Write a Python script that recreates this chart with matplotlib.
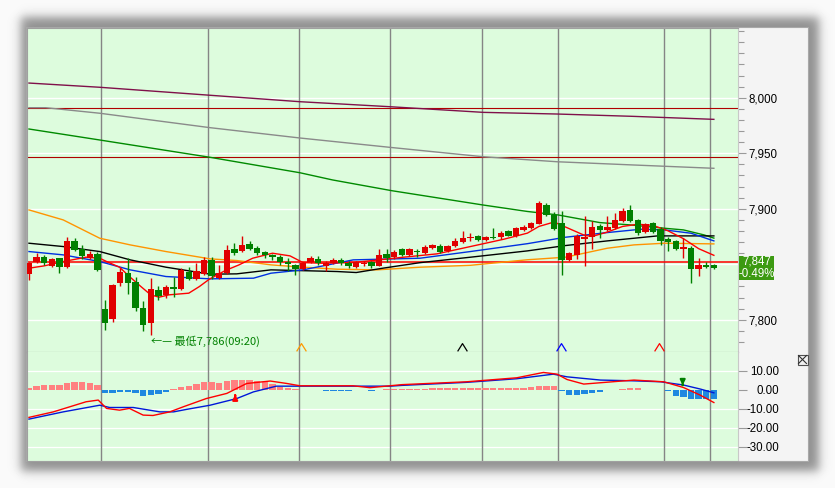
import numpy as np
import matplotlib.pyplot as plt
import matplotlib.transforms as mtrans
from matplotlib.patches import Rectangle

plt.rcParams['font.family'] = ['Liberation Sans', 'DejaVu Sans']

W, H = 835, 488

# ---- 3-minute candles ----
opens = [7841.2, 7852.3, 7856.2, 7848.4, 7855.3, 7847.2, 7870.9, 7863.4, 7855.3, 7859.2,
         7809.6, 7800.4, 7832.8, 7842.3, 7834.2, 7810.8, 7796.8, 7826.8, 7822.3, 7829.8,
         7827.4, 7842.7, 7836.8, 7841.2, 7853.8, 7838.0, 7841.8, 7863.7, 7862.2, 7868.2,
         7864.3, 7861.3, 7858.0, 7856.2, 7852.0, 7849.0, 7845.5, 7852.0, 7855.0, 7848.5,
         7851.5, 7854.0, 7851.5, 7847.7, 7850.3, 7852.0, 7848.5, 7859.3, 7856.2, 7863.7,
         7858.4, 7861.5, 7860.4, 7865.0, 7866.4, 7862.0, 7866.4, 7870.0, 7873.2, 7875.4,
         7871.8, 7874.4, 7874.2, 7880.2, 7875.0, 7880.9, 7883.0, 7886.3, 7903.4, 7894.4,
         7887.5, 7853.9, 7858.4, 7872.7, 7874.2, 7884.5, 7880.9, 7883.0, 7889.0, 7898.9,
         7889.9, 7879.4, 7886.9, 7881.5, 7872.5, 7871.0, 7863.8, 7865.0, 7845.5, 7849.4,
         7849.4]
highs = [7852.0, 7859.8, 7858.3, 7856.0, 7856.0, 7874.8, 7873.8, 7867.4, 7862.0, 7861.4,
         7817.7, 7832.0, 7846.4, 7855.5, 7838.9, 7816.4, 7838.0, 7830.4, 7831.0, 7838.9,
         7846.4, 7847.2, 7850.9, 7856.8, 7856.2, 7849.4, 7867.4, 7868.9, 7875.8, 7871.2,
         7866.0, 7862.0, 7859.0, 7858.0, 7856.0, 7850.0, 7852.0, 7857.0, 7857.0, 7853.0,
         7855.5, 7855.5, 7853.0, 7853.0, 7853.0, 7853.0, 7863.7, 7863.7, 7862.5, 7865.0,
         7865.0, 7864.0, 7867.0, 7868.5, 7868.0, 7867.3, 7874.0, 7880.3, 7878.0, 7876.5,
         7875.0, 7883.0, 7880.0, 7881.0, 7883.5, 7885.0, 7888.0, 7907.3, 7905.0, 7897.4,
         7898.3, 7861.0, 7877.0, 7893.5, 7889.3, 7886.5, 7893.5, 7895.9, 7900.4, 7903.4,
         7891.0, 7887.5, 7888.0, 7883.9, 7874.9, 7872.0, 7873.4, 7866.0, 7855.4, 7852.4,
         7850.0]
lows = [7835.8, 7850.8, 7849.3, 7847.8, 7842.3, 7846.5, 7862.0, 7854.4, 7855.0, 7844.2,
        7790.7, 7797.7, 7830.4, 7823.3, 7807.4, 7789.4, 7786.0, 7817.9, 7820.0, 7820.3,
        7827.0, 7835.8, 7835.8, 7840.0, 7836.8, 7837.0, 7841.0, 7858.3, 7861.0, 7862.5,
        7858.0, 7856.0, 7853.5, 7849.0, 7844.0, 7840.0, 7845.0, 7851.0, 7849.0, 7844.0,
        7850.5, 7849.5, 7847.0, 7847.0, 7848.0, 7847.0, 7848.0, 7852.0, 7855.0, 7857.0,
        7857.5, 7856.5, 7859.0, 7864.0, 7860.0, 7861.0, 7865.5, 7869.5, 7871.0, 7871.0,
        7871.0, 7872.5, 7873.0, 7875.0, 7874.5, 7880.0, 7882.0, 7886.0, 7893.5, 7880.5,
        7840.4, 7852.5, 7855.0, 7848.4, 7863.8, 7874.0, 7880.0, 7882.0, 7888.0, 7888.0,
        7876.5, 7878.0, 7878.0, 7867.4, 7862.3, 7862.5, 7855.4, 7833.5, 7839.4, 7846.5,
        7845.5]
closes = [7851.4, 7856.8, 7851.4, 7854.4, 7847.2, 7870.9, 7862.8, 7857.4, 7859.2, 7844.8,
          7797.3, 7831.0, 7843.2, 7833.3, 7810.8, 7795.2, 7827.4, 7821.4, 7829.7, 7828.0,
          7844.8, 7836.4, 7844.0, 7853.8, 7839.4, 7842.0, 7862.8, 7860.4, 7867.3, 7863.4,
          7860.4, 7858.3, 7856.5, 7852.3, 7850.0, 7845.5, 7851.5, 7855.4, 7851.5, 7851.5,
          7854.0, 7851.0, 7848.5, 7852.4, 7851.0, 7848.0, 7858.4, 7855.3, 7861.3, 7858.4,
          7863.7, 7860.8, 7865.9, 7867.3, 7861.3, 7866.4, 7871.2, 7874.0, 7873.6, 7871.8,
          7874.2, 7873.8, 7878.5, 7875.5, 7882.4, 7883.9, 7886.9, 7905.5, 7894.4, 7881.4,
          7853.9, 7859.9, 7875.5, 7874.9, 7883.3, 7880.9, 7883.9, 7889.9, 7898.0, 7889.3,
          7877.9, 7886.3, 7879.4, 7871.3, 7870.4, 7863.8, 7865.9, 7845.5, 7849.4, 7847.3,
          7847.0]

# ---- moving averages (candle index, price) ----
ma_purple_k = [0, 9.3, 23.8, 35.6, 47.4, 59.7, 69.4, 79.4, 90]
ma_purple_v = [8013.2, 8009.4, 8002.2, 7996.4, 7991.9, 7986.8, 7985.3, 7983.2, 7980.5]
ma_gray_k = [0, 2.2, 9.3, 23.8, 35.6, 47.4, 59.7, 69.4, 79.4, 90]
ma_gray_v = [7991.0, 7991.0, 7986.0, 7973.0, 7963.7, 7955.3, 7946.8, 7942.3, 7939.4, 7936.4]
ma_green_k = [0, 9.3, 23.8, 35.6, 39.9, 47.7, 59.7, 65.5, 69.5, 75, 79, 83.5, 86, 88.7, 90]
ma_green_v = [7971.8, 7961.9, 7946.3, 7932.4, 7925.9, 7916.2, 7903.3, 7897.5, 7894.4, 7887.5,
              7885.4, 7882.4, 7880.9, 7876.4, 7873.5]
ma_orange_k = [0, 4.5, 9.3, 13.3, 18, 23.8, 27.3, 31.8, 36, 40.5, 45.7, 51.4, 58, 65.5, 70.5,
               76, 79.5, 83.5, 90]
ma_orange_v = [7898.9, 7889.9, 7873.4, 7867.4, 7861.4, 7854.8, 7853.3, 7849.4, 7847.3, 7845.5,
               7844.9, 7847.3, 7849.0, 7854.0, 7856.3, 7864.4, 7867.4, 7868.9, 7868.3]
ma_black_k = [0, 4.5, 9.3, 13.3, 18, 23.8, 27.3, 31.8, 40.5, 43, 46.5, 51.4, 58, 65.5, 70.5,
              76, 82.6, 90]
ma_black_v = [7868.9, 7865.9, 7861.4, 7853.9, 7847.3, 7841.0, 7841.3, 7844.9, 7843.4, 7842.5,
              7846.4, 7851.4, 7856.3, 7862.0, 7866.8, 7871.0, 7875.5, 7875.5]
ma_blue_k = [0, 4.5, 9.3, 13.3, 18, 23.8, 29.5, 31.8, 36, 42.6, 51.4, 58, 65.5, 70.5, 76,
             80.4, 83.5, 87, 90]
ma_blue_v = [7861.4, 7858.4, 7852.4, 7844.9, 7838.9, 7836.8, 7837.4, 7841.9, 7844.9, 7853.9,
             7855.4, 7861.4, 7868.5, 7874.3, 7878.5, 7881.5, 7880.9, 7877.9, 7871.0]
ma_red_k = [0, 2, 4.5, 7.5, 9.3, 10.2, 11.9, 13.2, 14.7, 16, 17.1, 18.4, 21, 22.4, 23.7, 25.8,
            27.6, 29.4, 32, 34.3, 36, 38.5, 42.6, 46, 49.2, 53.6, 58, 62.4, 65.5, 67, 69, 71,
            73, 74, 76, 78, 80, 82, 84, 86, 88, 90]
ma_red_v = [7846.4, 7848.5, 7852.4, 7856.3, 7855.4, 7852.4, 7847.3, 7838.9, 7829.9, 7822.4,
            7820.3, 7822.4, 7823.9, 7829.9, 7836.5, 7844.3, 7849.4, 7855.4, 7859.9, 7857.5,
            7851.5, 7850.9, 7851.5, 7853.9, 7856.3, 7859.3, 7865.9, 7872.5, 7878.0, 7884.0,
            7888.0, 7882.0, 7876.0, 7875.0, 7879.0, 7884.0, 7886.0, 7885.0, 7880.0, 7873.0,
            7864.0, 7858.0]
ref_lines = [7990.6, 7946.4]
open_line = 7852.0
last_price = '7,847'
last_change = '-0.49%'
low_label = '←— 最低7,786(09:20)'
low_k, low_v = 16.0, 7780.8
signal_k = [35.8, 56.9, 69.9, 82.8]
signal_colors = ['#ff9900', '#000000', '#0000ff', '#ff0000']
grid_k = [9.5, 23.5, 35.5, 47.5, 59.5, 69.5, 83.5, 89.5]

# ---- MACD ----
macd_hist = [0.9, 2.1, 2.5, 2.5, 2.5, 3.7, 4.0, 4.0, 3.7, 2.6,
             -1.9, -1.9, -1.4, -1.1, -1.6, -3.2, -2.6, -2.1, -1.1, 0.3,
             1.6, 1.9, 3.2, 4.0, 4.0, 3.7, 4.6, 5.1, 5.1, 5.1,
             4.6, 3.9, 3.0, 1.6, 0.7, 0.2, -0.3, -0.2, -0.2, -0.5,
             -0.5, -0.6, -0.5, -0.3, -0.2, -0.5, -0.2, 0.3, 0.4, 0.5,
             0.5, 0.5, 0.6, 0.7, 0.8, 0.8, 0.9, 0.9, 1.0, 1.0,
             1.0, 0.9, 0.9, 0.9, 1.0, 1.0, 1.2, 2.1, 2.1, 1.9,
             -0.5, -2.8, -2.8, -2.3, -1.9, -1.2, -0.3, -0.2, 0.3, 0.7,
             0.7, -0.2, -0.3, -0.3, -0.9, -3.2, -3.7, -4.6, -4.6, -4.6,
             -4.7]
dif_k = [0, 3.2, 7.5, 9.1, 10.2, 11.9, 13.2, 15, 16.3, 18.5, 20.3, 23.3, 26, 28.6, 31.7, 33.9,
         35.6, 42.6, 44.8, 49, 57.5, 64.1, 67.6, 69.4, 70.7, 72.9, 75.1, 79.5, 83.4, 86, 88.2, 90]
dif_v = [-14.5, -11.6, -6.3, -5.4, -9.8, -10.7, -9.8, -13.3, -13.5, -11.6, -8.9, -4.6, -1.9,
         3.3, 4.6, 3.3, 2.1, 2.1, 1.1, 2.7, 4.2, 6.3, 9.1, 8.2, 5.4, 3.0, 3.7, 5.1, 4.2, 1.2,
         -2.8, -6.7]
dea_k = [0, 4.5, 9.3, 10.6, 13.7, 17.2, 19, 20.7, 23.8, 27.3, 29.5, 32.5, 35.6, 47.5, 49,
         57.5, 64.1, 68.9, 70.7, 75.1, 79.5, 83, 86, 88.2, 90]
dea_v = [-15.4, -11.6, -8.1, -9.3, -9.3, -11.6, -11.6, -10.3, -8.1, -4.6, -1.1, 1.9, 1.9, 1.9,
         2.3, 3.9, 5.8, 8.2, 6.8, 5.1, 4.7, 4.2, 2.5, 0.4, -1.6]
buy_k, buy_v = 27.1, (-4.5, -1.0)
sell_k, sell_v = 85.9, (4.0, 0.9)

UP, DOWN = '#e00000', '#008000'
PLOT_BG = '#ddfcdd'
TICK_FS = 8.3

fig = plt.figure(figsize=(W / 100, H / 100), dpi=100, facecolor='#fafafa')

# fondo con sombra suave de la ventana
bg = fig.add_axes([0, 0, 1, 1], zorder=0)
bg.set_xlim(0, W)
bg.set_ylim(H, 0)
bg.axis('off')
yy, xx = np.mgrid[0:H, 0:W] + 0.5


def edge(a, lo, hi, s):
    return 1 / (1 + np.exp(-(a - lo) / s)) / (1 + np.exp((a - hi) / s))


shadow = edge(xx, 21, 819, 3) * edge(yy, 17, 471, 3)
bg.imshow(0.98 - 0.42 * shadow, cmap='gray', vmin=0, vmax=1, extent=(0, W, H, 0),
          aspect='auto', interpolation='bilinear')
bg.add_patch(Rectangle((26, 27), 782, 434, fc='#f4f4f4', ec='#a8a8a8', lw=0.8))


def px_axes(x0, y0, x1, y1, **kw):
    return fig.add_axes([x0 / W, 1 - y1 / H, (x1 - x0) / W, (y1 - y0) / H], **kw)


ax = px_axes(27, 28, 738, 352, zorder=2)
mx = px_axes(27, 352, 738, 461, zorder=2)

k = np.arange(len(closes))
o, h, l, c = map(np.array, (opens, highs, lows, closes))
cols = np.where(c >= o, UP, DOWN)

# ---- main panel ----
ax.set_facecolor(PLOT_BG)
ax.set_xlim(-0.26, 93.17)
ax.set_ylim(7770.9, 8062.8)
for v in range(7800, 8001, 50):
    ax.axhline(v, color='white', lw=1, zorder=1)
for g in grid_k:
    ax.axvline(g, color='#858585', lw=1, zorder=1)
for v in ref_lines:
    ax.axhline(v, color='#b00000', lw=0.8, zorder=2)
ax.axhline(open_line, color='#ff0000', lw=1.1, zorder=2)

for xs, ys, col in [(ma_purple_k, ma_purple_v, '#80104a'), (ma_gray_k, ma_gray_v, '#8a8a8a'),
                    (ma_green_k, ma_green_v, '#008a00'), (ma_orange_k, ma_orange_v, '#ff9400'),
                    (ma_black_k, ma_black_v, '#000000'), (ma_blue_k, ma_blue_v, '#0030e0'),
                    (ma_red_k, ma_red_v, '#ff0000')]:
    ax.plot(xs, ys, color=col, lw=1.0, zorder=3)

ax.vlines(k, l, h, colors=cols, lw=1, zorder=4)
ax.bar(k, np.maximum(np.abs(c - o), 0.9), 0.84, bottom=np.minimum(o, c), color=cols,
       lw=0, zorder=5)

for sk, sc in zip(signal_k, signal_colors):
    ax.plot([sk], [7775.4], marker=[(-1, -0.8), (0, 0.8), (1, -0.8)], ms=7, mfc='none',
            mec=sc, mew=0.9, ls='none', zorder=5)
ax.text(low_k, low_v, low_label, color='#008000', fontsize=8, va='center', ha='left',
        family=['Noto Sans CJK TC', 'DejaVu Sans'], zorder=6)

ax.yaxis.tick_right()
ax.set_yticks(range(7800, 8001, 50))
ax.set_yticklabels(['7,800', '', '7,900', '7,950', '8,000'])
ax.set_yticks(range(7780, 8061, 10), minor=True)
ax.tick_params(axis='y', which='major', length=6, width=0.8, color='#9a9a9a', pad=1.8,
               labelsize=TICK_FS)
ax.tick_params(axis='y', which='minor', length=4, width=0.8, color='#9a9a9a')
ax.set_xticks([])
for s in ['left', 'top']:
    ax.spines[s].set_color('#a0a0a0')
ax.spines['right'].set_color('#c8c8c8')
ax.spines['bottom'].set_color('#808080')

# cuadro del último precio
tr = mtrans.blended_transform_factory(ax.transAxes, ax.transData)
ax.add_patch(Rectangle((1.0015, 7835.6), 0.0495, 21.7, transform=tr, fc='#3c9a12',
                       ec='none', clip_on=False, zorder=6))
ax.text(1.0262, 7852.0, last_price, transform=tr, ha='center', va='center', color='white',
        fontsize=TICK_FS, clip_on=False, zorder=7)
ax.text(1.0262, 7841.4, last_change, transform=tr, ha='center', va='center', color='white',
        fontsize=TICK_FS, clip_on=False, zorder=7)

# ---- MACD panel ----
mx.set_facecolor(PLOT_BG)
mx.set_xlim(-0.26, 93.17)
mx.set_ylim(-37.4, 19.84)
for v in [10, -10, -20, -30]:
    mx.axhline(v, color='white', lw=0.9, zorder=1)
for g in grid_k:
    mx.axvline(g, color='#858585', lw=1, zorder=1)
hist = np.array(macd_hist)
mx.bar(k, hist, 0.84, color=np.where(hist >= 0, '#ff8080', '#1f88e0'), lw=0, zorder=2)
mx.plot(dea_k, dea_v, color='#0018d8', lw=1.0, zorder=3)
mx.plot(dif_k, dif_v, color='#ff0000', lw=1.0, zorder=3)
mx.annotate('', xy=(buy_k, buy_v[1]), xytext=(buy_k, buy_v[0]),
            arrowprops=dict(arrowstyle='-|>', color='#ff0000', lw=1.6, mutation_scale=7),
            zorder=4)
mx.annotate('', xy=(sell_k, sell_v[1]), xytext=(sell_k, sell_v[0]),
            arrowprops=dict(arrowstyle='-|>', color='#008000', lw=1.6, mutation_scale=7),
            zorder=4)

mx.yaxis.tick_right()
mx.set_yticks([10, 0, -10, -20, -30])
mx.set_yticklabels(['10.00', '0.00', '-10.00', '-20.00', '-30.00'])
for t in mx.get_yticklabels():
    t.set_ha('right')
mx.tick_params(axis='y', length=6.5, width=0.8, color='#9a9a9a', pad=23.2, labelsize=TICK_FS)
mx.set_xticks([])
mx.spines['top'].set_visible(False)
mx.spines['left'].set_color('#a0a0a0')
mx.spines['bottom'].set_color('#a0a0a0')
mx.spines['right'].set_color('#c8c8c8')

# botón de cerrar del panel MACD
top = fig.add_axes([0, 0, 1, 1], zorder=10)
top.set_xlim(0, W)
top.set_ylim(H, 0)
top.axis('off')
top.patch.set_alpha(0)
top.add_patch(Rectangle((797.5, 354.5), 10, 10, fc='#f0f0f0', ec='#505050', lw=0.8))
top.plot([798.5, 806.5], [355.5, 363.5], color='#303030', lw=0.8)
top.plot([798.5, 806.5], [363.5, 355.5], color='#303030', lw=0.8)

fig.savefig('out.png', dpi=100, facecolor=fig.get_facecolor())
